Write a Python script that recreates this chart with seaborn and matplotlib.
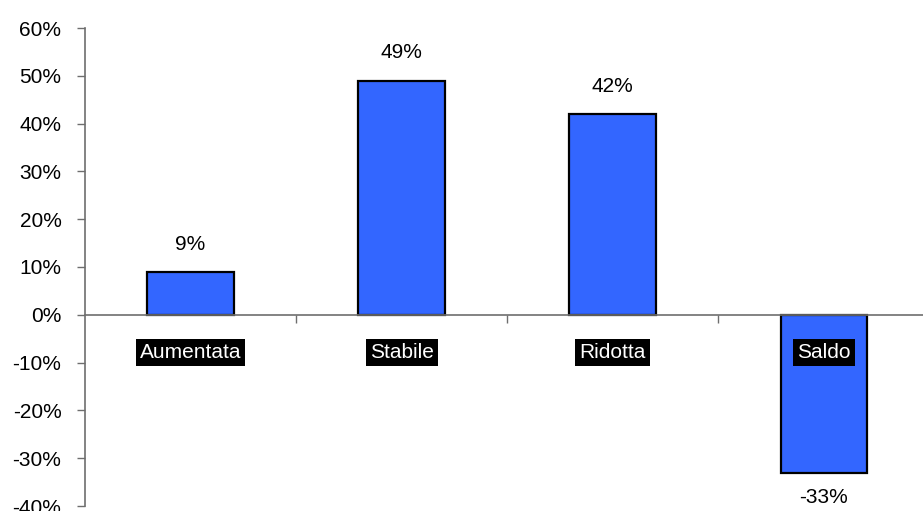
import matplotlib
matplotlib.use("Agg")
import matplotlib.pyplot as plt
import seaborn as sns
import pandas as pd
from matplotlib.ticker import FuncFormatter

categories = ["Aumentata", "Stabile", "Ridotta", "Saldo"]
values = [9, 49, 42, -33]
y_ticks = [-40, -30, -20, -10, 0, 10, 20, 30, 40, 50, 60]

sns.set_style("white")
plt.rcParams["font.family"] = ["Liberation Sans", "DejaVu Sans"]
plt.rcParams["text.color"] = "black"
fs = 15

df = pd.DataFrame({"categoria": categories, "valore": values})

fig = plt.figure(figsize=(9.23, 5.11), dpi=100)
ax = fig.add_axes([85 / 923, 5 / 511, 1 - 85 / 923, (506 - 28) / 511])

sns.barplot(data=df, x="categoria", y="valore", color="#3366FF", saturation=1,
            width=0.41, edgecolor="black", linewidth=1.6, ax=ax)

ax.set_ylim(-40, 60)
ax.set_xlim(-0.5, 3.47)
ax.set_yticks(y_ticks)
ax.yaxis.set_major_formatter(FuncFormatter(lambda v, _: f"{v:.0f}%"))
ax.set_xlabel("")
ax.set_ylabel("")

grey = "#6e6e6e"
for s in ("top", "right"):
    ax.spines[s].set_visible(False)
ax.spines["left"].set_color(grey)
ax.spines["left"].set_linewidth(1.2)
ax.spines["bottom"].set_position(("data", 0))
ax.spines["bottom"].set_color(grey)
ax.spines["bottom"].set_linewidth(1.2)

ax.set_xticks([0.5, 1.5, 2.5])
ax.set_xticklabels([])
ax.tick_params(axis="x", direction="out", length=6, width=1, color=grey, bottom=True)
ax.tick_params(axis="y", direction="out", length=6, width=1, color=grey, left=True,
               labelsize=fs, pad=11, labelcolor="black")

# value labels and category labels
for i, (cat, v) in enumerate(zip(categories, values)):
    if v >= 0:
        ax.annotate(f"{v}%", (i, v), xytext=(0, 20), textcoords="offset points",
                    ha="center", va="center", fontsize=fs, color="black")
    else:
        ax.annotate(f"{v}%", (i, v), xytext=(0, -18), textcoords="offset points",
                    ha="center", va="center", fontsize=fs, color="black")
    ax.annotate(cat, (i, 0), xytext=(0, -27), textcoords="offset points",
                ha="center", va="center", fontsize=fs, color="white",
                bbox=dict(boxstyle="square,pad=0.2", facecolor="black", edgecolor="none"))

fig.savefig("out.png", dpi=100)
